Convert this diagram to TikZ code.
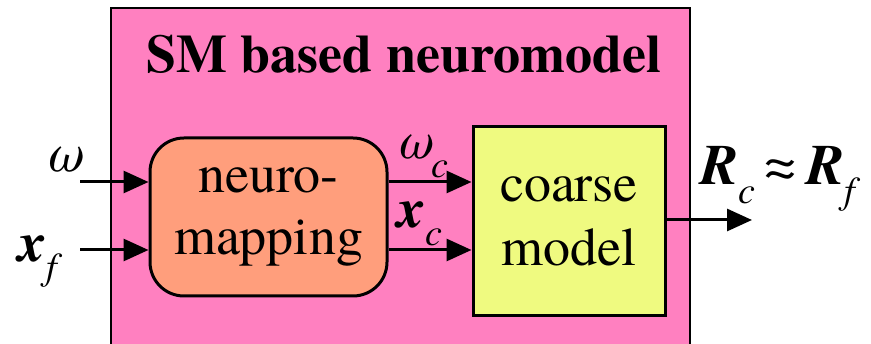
\documentclass[tikz,border=0pt]{standalone}
\usepackage{fontspec}
\setmainfont{texgyretermes-regular.otf}[
    BoldFont=texgyretermes-bold.otf,
    ItalicFont=texgyretermes-italic.otf,
    BoldItalicFont=texgyretermes-bolditalic.otf]
\usepackage{tikz}
\usetikzlibrary{arrows.meta,positioning}

\definecolor{framepink}{RGB}{255,128,192}
\definecolor{mapsalmon}{RGB}{255,158,124}
\definecolor{modelyellow}{RGB}{239,250,128}

% bold italic symbol with an italic subscript
\newcommand{\vsub}[2]{{\bfseries\itshape #1}\raisebox{-0.32em}{\fontsize{38}{38}\selectfont\itshape #2}}

\begin{document}
\begin{tikzpicture}[
    x=1pt, y=-1pt,
    >={Triangle[length=25pt, width=22pt]},
    frame/.style={draw, line width=2pt, fill=framepink},
    mapbox/.style={draw, line width=3pt, fill=mapsalmon, rounded corners=34pt,
        minimum width=237pt, minimum height=158pt, align=center,
        font=\fontsize{54}{62}\selectfont},
    modelbox/.style={draw, line width=3pt, fill=modelyellow,
        minimum width=192pt, minimum height=189pt, align=center,
        font=\fontsize{54}{64}\selectfont},
    sig/.style={->, line width=3pt},
    lbl/.style={inner sep=0pt, anchor=base west, font=\fontsize{56}{56}\selectfont},
]
\useasboundingbox (0,0) rectangle (871,344);
\clip (0,0) rectangle (871,344);

% enclosing neuromodel
\draw[frame] (111,8) rectangle (690,380);
\node[inner sep=0pt, anchor=base west, font=\fontsize{54}{54}\selectfont\bfseries] (title) at (146,73) {SM based neuromodel};

% blocks
\node[mapbox] (map) at (268.5,217) {neuro-\\mapping};
\node[modelbox] (coarse) at (569,221.5) {coarse\\model};

% inputs and output ends
\coordinate (win) at (80,182);
\coordinate (xin) at (80,250);
\coordinate (rout) at (752,220);
\node[lbl, font=\fontsize{56}{56}\selectfont\itshape] (w) at (45,172) {ω};
\node[lbl] (xf) at (18,262) {\vsub{x}{f}};
\node[lbl, font=\fontsize{54}{54}\selectfont] (wc) at (396,159) {{\itshape ω}\raisebox{-0.34em}{\fontsize{38}{38}\selectfont\itshape c}};
\node[lbl] (xc) at (397,228) {\vsub{x}{c}};
\node[lbl, font=\fontsize{57}{57}\selectfont] (rr) at (700,185) {\vsub{R}{c}\,≈\,\vsub{R}{f}};

% connectors
\draw[sig] (win) -- (map.west |- win);
\draw[sig] (xin) -- (map.west |- xin);
\draw[sig] (map.east |- win) -- (coarse.west |- win);
\draw[sig] (map.east |- xin) -- (coarse.west |- xin);
\draw[sig] (coarse.east |- rout) -- (rout);
\end{tikzpicture}
\end{document}
